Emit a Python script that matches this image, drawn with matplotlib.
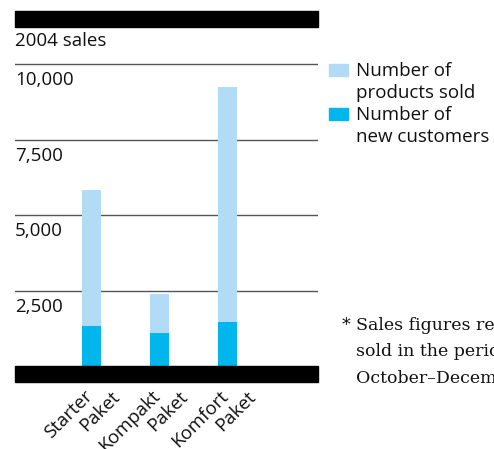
import matplotlib.pyplot as plt
from matplotlib.patches import Rectangle

# datos de ventas 2004
paquetes = ['Starter', 'Kompakt', 'Komfort']
sufijo = 'Paket'
productos_vendidos = [5850, 2400, 9250]
clientes_nuevos = [1340, 1100, 1470]
ticks_y = [2500, 5000, 7500, 10000]
etiquetas_y = ['2,500', '5,000', '7,500', '10,000']
series = ['Number of\nproducts sold', 'Number of\nnew customers']
colores = ['#b2dcf5', '#00b6ec']

nota = ['Sales figures refer to products', 'sold in the period', 'October\u2013December 2004']

plt.rcParams['font.family'] = ['Open Sans', 'DejaVu Sans']
tam = 13.5

W, H = 494, 449
fig = plt.figure(figsize=(W / 100, H / 100), dpi=100)

# ejes: de x=15 a x=318 px, de y=11 a y=382 px
ax = fig.add_axes([15 / W, (H - 382) / H, 303 / W, 371 / H])
ax.set_xlim(-1.123, 3.333)
ax.set_ylim(-520, 11765)
ax.axis('off')

# barras negras arriba y abajo
ax.add_patch(Rectangle((0, 0), 1, 16 / 371, transform=ax.transAxes,
                       color='black', clip_on=False, zorder=4))
ax.add_patch(Rectangle((0, 1 - 16 / 371), 1, 16 / 371, transform=ax.transAxes,
                       color='black', clip_on=False, zorder=4))

# lineas guia y sus etiquetas
for v, lab in zip(ticks_y, etiquetas_y):
    ax.axhline(v, color='#555555', lw=1.0, zorder=1)
    ax.annotate(lab, xy=(0, v), xycoords=('axes fraction', 'data'),
                xytext=(0, -5), textcoords='offset points',
                ha='left', va='top', fontsize=tam, color='#111111')

x = list(range(len(paquetes)))
ax.bar(x, productos_vendidos, width=0.284, color=colores[0], zorder=2)
ax.bar(x, clientes_nuevos, width=0.284, color=colores[1], zorder=3)

# etiquetas inclinadas en dos partes
for i, p in enumerate(paquetes):
    ax.annotate(p, xy=(i, 0), xytext=(-6, -15), textcoords='offset points',
                rotation=45, rotation_mode='anchor', ha='right', va='top',
                fontsize=tam, color='#111111', annotation_clip=False)
    ax.annotate(sufijo, xy=(i, 0), xytext=(14, -15.5), textcoords='offset points',
                rotation=45, rotation_mode='anchor', ha='right', va='top',
                fontsize=tam, color='#111111', annotation_clip=False)

fig.text(15 / W, (H - 46) / H, '2004 sales', ha='left', va='baseline',
         fontsize=tam, color='#111111')

# leyenda
cuadros = [(64, 76), (108, 120)]
for (y0, y1), c, s, base in zip(cuadros, colores, series, [76, 120]):
    fig.patches.append(Rectangle((329 / W, (H - y1) / H), 19 / W, (y1 - y0) / H,
                                 transform=fig.transFigure, color=c))
    for j, linea in enumerate(s.split('\n')):
        fig.text(356 / W, (H - base - 22 * j) / H, linea, ha='left', va='baseline',
                 fontsize=tam, color='#111111')

# nota al pie
fig.text(342 / W, (H - 330) / H, '*', ha='left', va='baseline',
         fontsize=12.5, family='DejaVu Serif', color='#111111')
for j, linea in enumerate(nota):
    fig.text(356 / W, (H - 330 - 26.5 * j) / H, linea, ha='left', va='baseline',
             fontsize=12.5, family='DejaVu Serif', color='#111111')

fig.savefig('out.png', dpi=100)
